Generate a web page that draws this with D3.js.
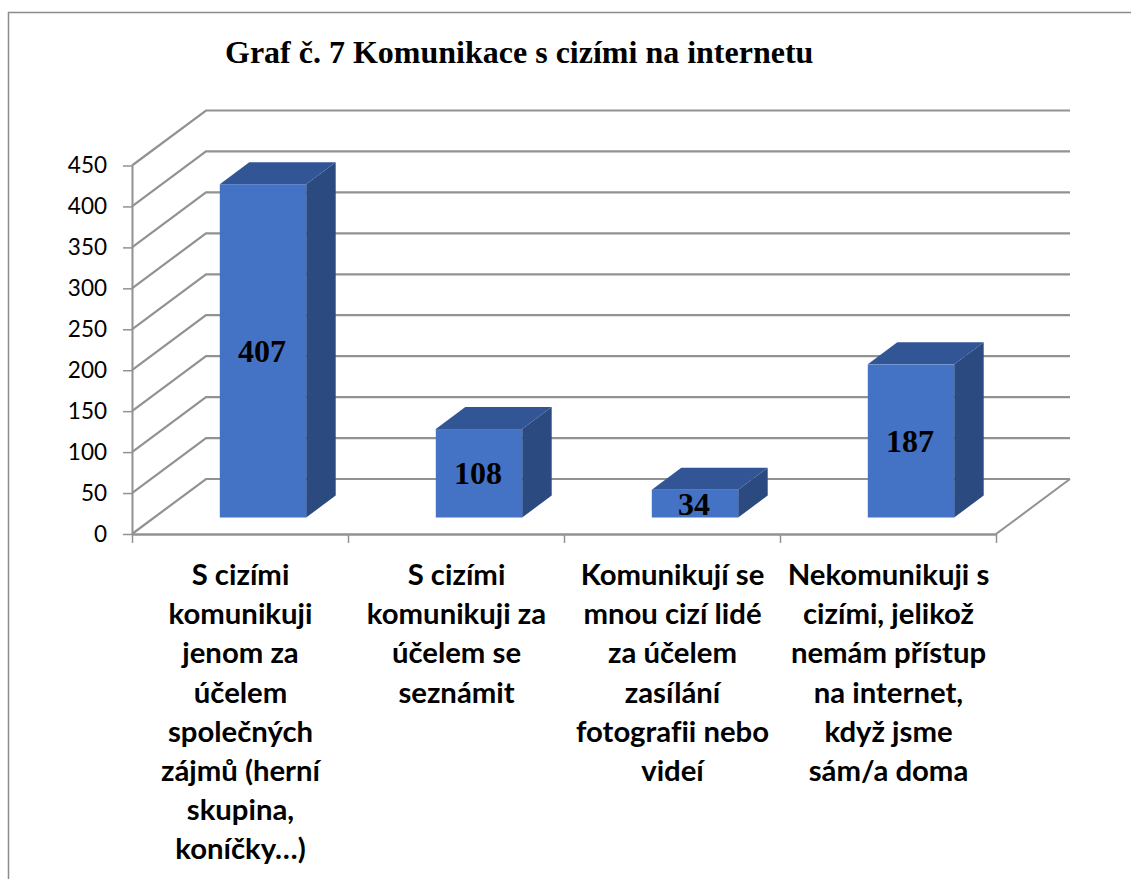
<!DOCTYPE html>
<html>
<head>
<meta charset="utf-8">
<script src="https://cdn.jsdelivr.net/npm/d3@7"></script>
<style>
html, body { margin: 0; padding: 0; background: #fff; overflow: hidden; }
svg { display: block; }
</style>
</head>
<body>
<svg id="chart" width="1131" height="879"></svg>
<script>
var categories = [
    ["S cizími", "komunikuji", "jenom za", "účelem", "společných", "zájmů (herní", "skupina,", "koníčky…)"],
    ["S cizími", "komunikuji za", "účelem se", "seznámit"],
    ["Komunikují se", "mnou cizí lidé", "za účelem", "zasílání", "fotografii nebo", "videí"],
    ["Nekomunikuji s", "cizími, jelikož", "nemám přístup", "na internet,", "když jsme", "sám/a doma"]
];
var values = [407, 108, 34, 187];
var yTicks = [0, 50, 100, 150, 200, 250, 300, 350, 400, 450];
var title = "Graf č. 7 Komunikace s cizími na internetu";

var WIDTH = 1131;
var HEIGHT = 879;
var GRID = "#929292";
// how far the back wall sits from the front plane
var WALL_DX = 74;
var WALL_DY = -55;
// where the bar front sits on the floor and how deep the bar is
var BAR_DX = 23;
var BAR_DY = -16.5;
var DEPTH_DX = 29.5;
var DEPTH_DY = -22;

var svg = d3.select("#chart");

var y = d3.scaleLinear().domain([0, 450]).range([534, 165.5]);
var x = d3.scaleBand()
    .domain(d3.range(categories.length))
    .range([132, 996])
    .paddingInner(0.6)
    .paddingOuter(0.3);
var slots = d3.scaleLinear().domain([0, categories.length]).range([132, 996]);

// outer frame, cut by the right and bottom edge like the scan
svg.append("path")
    .attr("d", "M8.5,879V12.5H1131")
    .style("fill", "none")
    .style("stroke", "#8c8c8c")
    .style("stroke-width", 1.5);

svg.append("text")
    .attr("x", 225)
    .attr("y", 63)
    .style("font-family", "'Liberation Serif'")
    .style("font-weight", "bold")
    .style("font-size", "32px")
    .style("fill", "#000")
    .text(title);

// wall gridlines
svg.append("g")
    .selectAll("path")
    .data(yTicks)
    .enter()
    .append("path")
    .attr("d", function(d) {
        return "M132," + y(d) + "l" + WALL_DX + "," + WALL_DY + "H" + (996 + WALL_DX);
    })
    .style("fill", "none")
    .style("stroke", GRID)
    .style("stroke-width", 2.2);

// floor right side
svg.append("line")
    .attr("x1", 996)
    .attr("y1", y(0))
    .attr("x2", 996 + WALL_DX)
    .attr("y2", y(0) + WALL_DY)
    .style("stroke", GRID)
    .style("stroke-width", 2);

var yAxis = d3.axisLeft(y).tickValues(yTicks).tickSize(9).tickSizeOuter(0).tickPadding(16);
var gy = svg.append("g").attr("transform", "translate(132,0)").call(yAxis);
gy.selectAll("line").style("stroke", GRID).style("stroke-width", 1.5);
gy.select(".domain").style("stroke", GRID).style("stroke-width", 2);
gy.selectAll("text")
    .style("font-family", "Lato")
    .style("font-size", "22.5px")
    .style("fill", "#000");

var xAxis = d3.axisBottom(slots).ticks(categories.length).tickSize(9).tickSizeOuter(0).tickFormat("");
var gx = svg.append("g").attr("transform", "translate(0," + y(0) + ")").call(xAxis);
gx.selectAll("line").style("stroke", GRID).style("stroke-width", 1.5);
gx.select(".domain").style("stroke", GRID).style("stroke-width", 2.5);

// bars
var bars = svg.append("g")
    .selectAll("g")
    .data(values)
    .enter()
    .append("g")
    .attr("transform", "translate(" + BAR_DX + "," + BAR_DY + ")");

bars.append("path")
    .attr("d", function(d, i) {
        var r = x(i) + x.bandwidth();
        return "M" + r + "," + y(d) + "l" + DEPTH_DX + "," + DEPTH_DY +
            "V" + (y(0) + DEPTH_DY) + "l" + (-DEPTH_DX) + "," + (-DEPTH_DY) + "Z";
    })
    .style("fill", "#2b4a80");

bars.append("path")
    .attr("d", function(d, i) {
        return "M" + x(i) + "," + y(d) + "l" + DEPTH_DX + "," + DEPTH_DY +
            "h" + x.bandwidth() + "l" + (-DEPTH_DX) + "," + (-DEPTH_DY) + "Z";
    })
    .style("fill", "#325695");

bars.append("rect")
    .attr("x", function(d, i) { return x(i); })
    .attr("y", function(d) { return y(d); })
    .attr("width", x.bandwidth())
    .attr("height", function(d) { return y(0) - y(d); })
    .style("fill", "#4472c4");

bars.append("text")
    .attr("x", function(d, i) { return x(i) + x.bandwidth() / 2 - 1; })
    .attr("y", function(d) { return (y(d) + y(0)) / 2; })
    .attr("dy", "0.35em")
    .attr("text-anchor", "middle")
    .style("font-family", "'Liberation Serif'")
    .style("font-weight", "bold")
    .style("font-size", "32px")
    .style("fill", "#000")
    .text(function(d) { return d; });

// category labels, wrapped like the original
var labels = svg.append("g")
    .selectAll("text")
    .data(categories)
    .enter()
    .append("text")
    .attr("text-anchor", "middle")
    .style("font-family", "Lato")
    .style("font-weight", "bold")
    .style("font-size", "29.3px")
    .style("font-variant-ligatures", "none")
    .style("fill", "#000");

labels.selectAll("tspan")
    .data(function(d, i) {
        return d.map(function(t, j) { return { t: t, i: i, j: j }; });
    })
    .enter()
    .append("tspan")
    .attr("x", function(d) { return slots(d.i + 0.5) + 0.5; })
    .attr("y", function(d) { return 585 + d.j * 39.2; })
    .text(function(d) { return d.t; });
</script>
</body>
</html>
